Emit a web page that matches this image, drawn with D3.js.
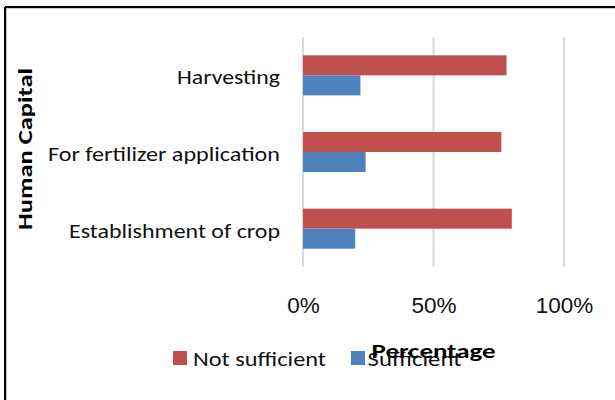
<!DOCTYPE html>
<html>
<head>
<meta charset="utf-8">
<script src="https://cdn.jsdelivr.net/npm/d3@7"></script>
<style>
  html, body { margin: 0; padding: 0; background: #fff; }
  svg { display: block; }
</style>
</head>
<body>
<svg id="chart" width="615" height="400"></svg>
<script>
// ---- data ----
const categories = ["Harvesting", "For fertilizer application", "Establishment of crop"];
const seriesNames = ["Not sufficient", "Sufficient"];
const notSufficient = [78, 76, 80];
const sufficient = [22, 24, 20];
const tickValues = [0, 50, 100];
const xTitle = "Percentage";
const yTitle = "Human Capital";

const seriesValues = [notSufficient, sufficient];
const colors = ["#C0504D", "#4F81BD"];

const svg = d3.select("#chart");
const calibri = "Carlito, Lato, 'Open Sans', sans-serif";

// frame (left + top border)
svg.append("line").attr("x1", 5.5).attr("x2", 5.5).attr("y1", 7).attr("y2", 400)
  .attr("stroke", "#c8c8c8").attr("stroke-width", 3);
svg.append("line").attr("x1", 5).attr("x2", 615).attr("y1", 7.5).attr("y2", 7.5)
  .attr("stroke", "#c8c8c8").attr("stroke-width", 3);
svg.append("line").attr("x1", 5).attr("x2", 5).attr("y1", 7).attr("y2", 400)
  .attr("stroke", "#000").attr("stroke-width", 2);
svg.append("line").attr("x1", 5).attr("x2", 615).attr("y1", 7).attr("y2", 7)
  .attr("stroke", "#000").attr("stroke-width", 2);

const x = d3.scaleLinear().domain([0, 100]).range([303, 564]);
const y = d3.scaleBand().domain(categories).range([37, 267])
  .paddingInner(0.478).paddingOuter(0.239);
const ySub = d3.scaleBand().domain(seriesNames).range([0, y.bandwidth()]);

// gridlines
svg.append("g").selectAll("line").data(tickValues).join("line")
  .attr("x1", d => x(d)).attr("x2", d => x(d))
  .attr("y1", 37).attr("y2", 267)
  .attr("stroke", "#D9D9D9").attr("stroke-width", 2);

// bars
const rows = categories.map((c, i) => ({ c, vals: seriesNames.map((s, j) => ({ s, j, v: seriesValues[j][i] })) }));
const groups = svg.append("g").selectAll("g").data(rows).join("g")
  .attr("transform", d => `translate(0,${y(d.c)})`);
groups.selectAll("rect").data(d => d.vals).join("rect")
  .attr("x", x(0))
  .attr("y", d => ySub(d.s))
  .attr("width", d => x(d.v) - x(0))
  .attr("height", ySub.bandwidth())
  .attr("fill", d => colors[d.j]);

// category labels
const catWidths = [103, 232, 211];
svg.append("g").selectAll("text").data(categories).join("text")
  .attr("x", 280)
  .attr("y", d => y(d) + y.bandwidth() / 2 + 9)
  .attr("text-anchor", "end")
  .attr("font-family", calibri)
  .attr("font-size", 20.5)
  .attr("fill", "#111")
  .attr("textLength", (d, i) => catWidths[i])
  .attr("lengthAdjust", "spacingAndGlyphs")
  .text(d => d);

// x axis tick labels
const xAxis = d3.axisBottom(x).tickValues(tickValues).tickSize(0).tickPadding(0)
  .tickFormat(d => d + "%");
const axG = svg.append("g").attr("transform", "translate(0,296)").call(xAxis);
axG.select(".domain").remove();
axG.selectAll("text")
  .attr("font-family", "'Liberation Sans', Arial, sans-serif")
  .attr("font-size", 22.5)
  .attr("fill", "#111")
  .attr("dy", "0.75em");

// legend
const legendPos = [{ sx: 173, tx: 193, w: 133 }, { sx: 351, tx: 367.5, w: 94 }];
const leg = svg.append("g").selectAll("g").data(seriesNames).join("g");
leg.append("rect")
  .attr("x", (d, i) => legendPos[i].sx).attr("y", 351)
  .attr("width", 14).attr("height", 14)
  .attr("fill", (d, i) => colors[i]);
leg.append("text")
  .attr("x", (d, i) => legendPos[i].tx).attr("y", 365.5)
  .attr("font-family", calibri).attr("font-size", 21)
  .attr("fill", "#111")
  .attr("textLength", (d, i) => legendPos[i].w)
  .attr("lengthAdjust", "spacingAndGlyphs")
  .text(d => d);

// x title
svg.append("text")
  .attr("x", x(50)).attr("y", 357.5)
  .attr("text-anchor", "middle")
  .attr("font-family", calibri).attr("font-weight", "bold").attr("font-size", 21)
  .attr("fill", "#000")
  .attr("textLength", 124).attr("lengthAdjust", "spacingAndGlyphs")
  .text(xTitle);

// y title
svg.append("text")
  .attr("transform", "translate(32,149) rotate(-90)")
  .attr("text-anchor", "middle")
  .attr("font-family", calibri).attr("font-weight", "bold").attr("font-size", 21)
  .attr("fill", "#000")
  .attr("textLength", 162).attr("lengthAdjust", "spacingAndGlyphs")
  .text(yTitle);
</script>
</body>
</html>
